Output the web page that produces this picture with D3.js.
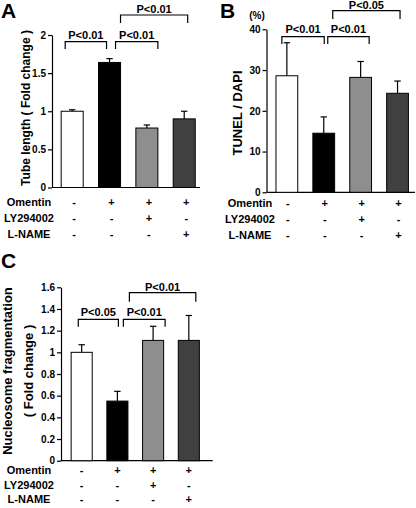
<!DOCTYPE html>
<html><head><meta charset="utf-8">
<script src="https://cdn.jsdelivr.net/npm/d3@7"></script>
<style>
html,body{margin:0;padding:0;background:#fff;}
svg{display:block;font-family:"Liberation Sans",Arial,sans-serif;font-weight:bold;}
</style></head>
<body>
<svg id="chart" width="416" height="508"></svg>
<script>
// ---- data ----
const groups = ["g1", "g2", "g3", "g4"];
const rowNames = ["Omentin", "LY294002", "L-NAME"];
const omentinSigns = ["-", "+", "+", "+"];
const lySigns = ["-", "-", "+", "-"];
const lnameSigns = ["-", "-", "-", "+"];

const tubeLength = [1.0, 1.64, 0.78, 0.90];
const tubeLengthErr = [0.02, 0.05, 0.04, 0.10];
const tubeTicks = [0, 0.5, 1, 1.5, 2];
const tubeTickLabels = ["0", "0.5", "1", "1.5", "2"];

const tunel = [28.6, 14.5, 28.2, 24.3];
const tunelErr = [8.1, 4.0, 3.9, 3.0];
const tunelTicks = [0, 10, 20, 30, 40];
const tunelTickLabels = ["0", "10", "20", "30", "40"];

const nucleosome = [1.0, 0.55, 1.11, 1.11];
const nucleosomeErr = [0.07, 0.09, 0.13, 0.23];
const nucTicks = [0, 0.2, 0.4, 0.6, 0.8, 1, 1.2, 1.4, 1.6];
const nucTickLabels = ["0", "0.2", "0.4", "0.6", "0.8", "1", "1.2", "1.4", "1.6"];

const comparisons = [[0, 1], [1, 2], [1, 3]];
const pA = ["P<0.01", "P<0.01", "P<0.01"];
const pB = ["P<0.01", "P<0.01", "P<0.05"];
const pC = ["P<0.05", "P<0.01", "P<0.01"];

const barColors = ["#ffffff", "#000000", "#8e8e8e", "#404040"];

// ---- layout ----
const panels = [
  { letter: "A", letterPos: [1, 18], values: tubeLength, errs: tubeLengthErr,
    ticks: tubeTicks, tickLabels: tubeTickLabels, pvals: pA,
    axisX: 52, axisRight: 200, yRange: [187.5, 35], yDomain: [0, 2],
    band: [53.7, 202.7],
    title: ["Tube length ( Fold change )"], titleSize: 12, titleX: [29.5], titleY: 108,
    brackets: [{dl: -7, dr: -3, top: 41.7, bot: 49, ty: 38.5},
               {dl: 6, dr: 11, top: 41.7, bot: 49, ty: 38.5},
               {dl: 11, dr: 3.5, top: 15, bot: 23, ty: 12.5}],
    labelX: 29, rowY: [205.5, 222, 238], signDx: 2 },
  { letter: "B", letterPos: [220, 18], values: tunel, errs: tunelErr,
    ticks: tunelTicks, tickLabels: tunelTickLabels, pvals: pB,
    axisX: 266.5, axisRight: 415, yRange: [192.3, 29.3], yDomain: [0, 40],
    band: [268.6, 415.8],
    title: ["TUNEL / DAPI"], titleSize: 13, titleX: [242], titleY: 113,
    unit: "(%)", unitPos: [257, 19],
    brackets: [{dl: -5, dr: 0.5, top: 36.7, bot: 44, ty: 33},
               {dl: 4, dr: 8.5, top: 36.7, bot: 44, ty: 33},
               {dl: 9, dr: 2.5, top: 10.7, bot: 19, ty: 8.5}],
    labelX: 250, rowY: [206.5, 222.5, 239], signDx: 1 },
  { letter: "C", letterPos: [1, 268], values: nucleosome, errs: nucleosomeErr,
    ticks: nucTicks, tickLabels: nucTickLabels, pvals: pC,
    axisX: 61, axisRight: 212.7, yRange: [460.7, 287.3], yDomain: [0, 1.6],
    band: [64, 206.5],
    title: ["Nucleosome fragmentation", "( Fold change )"], titleSize: 13, titleX: [12, 33], titleY: 371,
    brackets: [{dl: -3.4, dr: 1, top: 319.3, bot: 326.7, ty: 315.5},
               {dl: 6, dr: 12, top: 319.3, bot: 326.7, ty: 315.5},
               {dl: 12, dr: 7, top: 292.7, bot: 301.7, ty: 290.5}],
    labelX: 29, rowY: [474, 488.5, 502.5], signDx: 0 }
];

const svg = d3.select("#chart");
const signRows = [omentinSigns, lySigns, lnameSigns];

panels.forEach(p => {
  const g = svg.append("g");
  const x = d3.scaleBand().domain(groups).range(p.band).paddingInner(0.41).paddingOuter(0.2);
  const y = d3.scaleLinear().domain(p.yDomain).range(p.yRange);

  g.append("text").attr("x", p.letterPos[0]).attr("y", p.letterPos[1])
    .attr("font-size", 21).attr("font-weight", "bold").text(p.letter);

  const yAxis = d3.axisLeft(y).tickValues(p.ticks)
    .tickFormat((d, i) => p.tickLabels[i]).tickSize(4).tickPadding(2).tickSizeOuter(0);
  const ya = g.append("g").attr("transform", `translate(${p.axisX},0)`).call(yAxis);
  ya.selectAll("path,line").attr("stroke", "#000").attr("stroke-width", 1.2);
  ya.selectAll("text").attr("font-size", 10).attr("font-weight", "bold")
    .attr("font-family", '"Liberation Sans",Arial,sans-serif').attr("fill", "#000");

  g.append("line").attr("x1", p.axisX).attr("x2", p.axisRight)
    .attr("y1", y(0)).attr("y2", y(0)).attr("stroke", "#000").attr("stroke-width", 1.2);

  g.selectAll("rect.bar").data(p.values).join("rect").attr("class", "bar")
    .attr("x", (d, i) => x(groups[i])).attr("width", x.bandwidth())
    .attr("y", d => y(d)).attr("height", d => y(0) - y(d))
    .attr("fill", (d, i) => barColors[i]).attr("stroke", "#000").attr("stroke-width", 1);

  const cx = i => x(groups[i]) + x.bandwidth() / 2;
  p.values.forEach((v, i) => {
    g.append("line").attr("x1", cx(i)).attr("x2", cx(i))
      .attr("y1", y(v)).attr("y2", y(v + p.errs[i])).attr("stroke", "#000").attr("stroke-width", 1.2);
    g.append("line").attr("x1", cx(i) - 3.2).attr("x2", cx(i) + 3.2)
      .attr("y1", y(v + p.errs[i])).attr("y2", y(v + p.errs[i])).attr("stroke", "#000").attr("stroke-width", 1.2);
  });

  comparisons.forEach((c, k) => {
    const b = p.brackets[k];
    const xl = cx(c[0]) + b.dl, xr = cx(c[1]) + b.dr;
    g.append("path").attr("d", `M${xl},${b.bot}V${b.top}H${xr}V${b.bot}`)
      .attr("fill", "none").attr("stroke", "#000").attr("stroke-width", 1.2);
    g.append("text").attr("x", (xl + xr) / 2).attr("y", b.ty).attr("text-anchor", "middle")
      .attr("font-size", 11).text(p.pvals[k]);
  });

  p.title.forEach((t, k) => {
    g.append("text").attr("transform", `translate(${p.titleX[k]},${p.titleY}) rotate(-90)`)
      .attr("text-anchor", "middle").attr("font-size", p.titleSize).text(t);
  });
  if (p.unit) {
    g.append("text").attr("x", p.unitPos[0]).attr("y", p.unitPos[1]).attr("text-anchor", "middle")
      .attr("font-size", 10).text(p.unit);
  }

  rowNames.forEach((name, r) => {
    g.append("text").attr("x", p.labelX).attr("y", p.rowY[r]).attr("text-anchor", "middle")
      .attr("font-size", 11).text(name);
    signRows[r].forEach((s, i) => {
      g.append("text").attr("x", cx(i) + p.signDx).attr("y", p.rowY[r]).attr("text-anchor", "middle")
        .attr("font-size", 11).text(s);
    });
  });
});
</script>
</body></html>
